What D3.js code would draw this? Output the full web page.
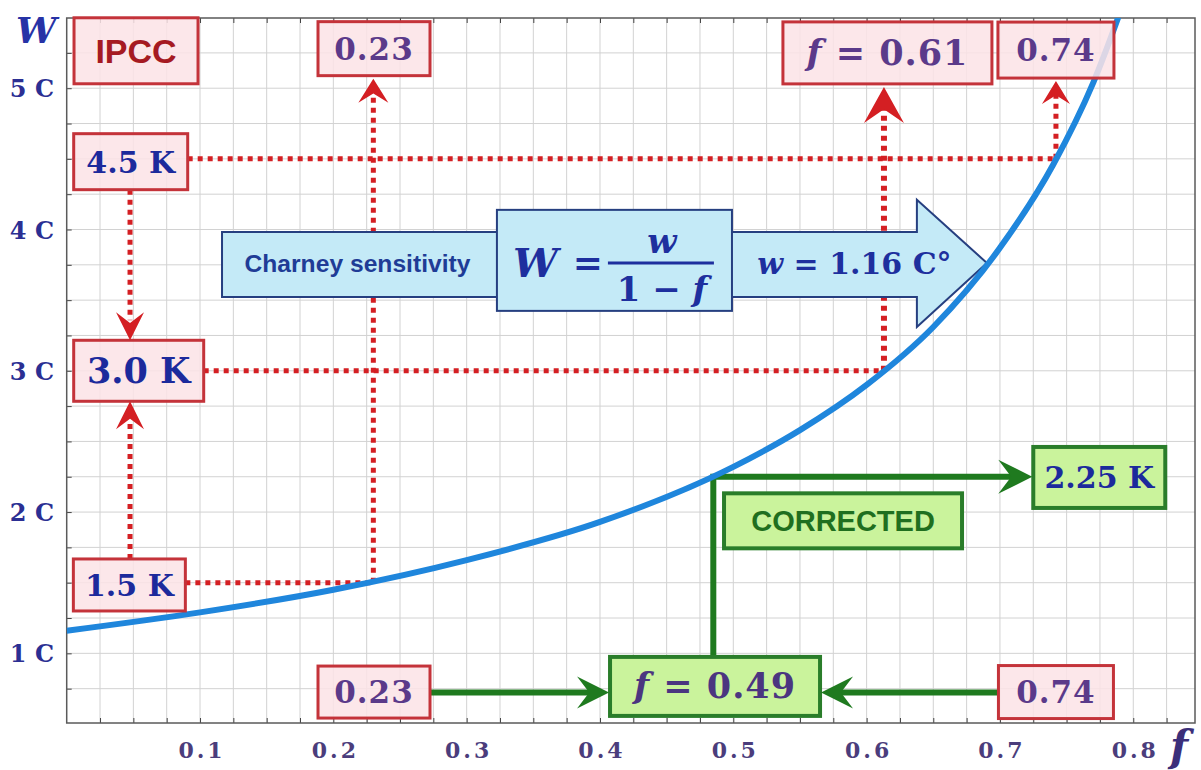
<!DOCTYPE html>
<html>
<head>
<meta charset="utf-8">
<script src="https://cdn.jsdelivr.net/npm/d3@7"></script>
<style>
  body { margin: 0; background: #fff; }
  svg { display: block; }
</style>
</head>
<body>
<div id="chart"></div>
<script>
// sensitivity curve W = w / (1 - f)
var curveF = [0, 0.1, 0.2, 0.3, 0.4, 0.5, 0.55, 0.6, 0.65, 0.7, 0.74, 0.77, 0.8];
var curveW = [1.16, 1.29, 1.45, 1.66, 1.93, 2.32, 2.58, 2.90, 3.31, 3.87, 4.46, 5.04, 5.80];

var xTicks = [0.1, 0.2, 0.3, 0.4, 0.5, 0.6, 0.7, 0.8];
var xTickLabels = ["0.1", "0.2", "0.3", "0.4", "0.5", "0.6", "0.7", "0.8"];
var yTicks = [1, 2, 3, 4, 5];
var yTickLabels = ["1 C", "2 C", "3 C", "4 C", "5 C"];

// IPCC range: warming levels and the feedback where each meets the curve
var ipccW = [1.5, 3.0, 4.5];
var ipccF = [0.23, 0.613, 0.742];
var ipccWLabels = ["1.5 K", "3.0 K", "4.5 K"];
var ipccFLabels = ["0.23", "0.61", "0.74"];

// corrected value
var correctedF = 0.485;
var correctedW = 2.25;
var correctedLabels = ["0.49", "2.25 K"];

var width = 1201;
var height = 770;

var x = d3.scaleLinear().domain([0, 0.8463]).range([66.7, 1195]);
var y = d3.scaleLinear().domain([0.507, 5.497]).range([723, 18]);

var svg = d3.select('#chart')
            .append('svg')
            .attr('width', width)
            .attr('height', height);

svg.append('rect').attr('width', width).attr('height', height).attr('fill', '#fff');

var plotL = x.range()[0], plotR = x.range()[1];
var plotT = y.range()[1], plotB = y.range()[0];

svg.append('clipPath').attr('id', 'plotclip')
   .append('rect')
   .attr('x', plotL).attr('y', plotT)
   .attr('width', plotR - plotL).attr('height', plotB - plotT);

// grid
var gridX = d3.range(1, 34).map(function(i){ return i * 0.025; });
var gridY = d3.range(3, 22).map(function(i){ return i * 0.25; });

svg.append('g').selectAll('line').data(gridX).enter().append('line')
   .attr('x1', function(d){ return x(d); }).attr('x2', function(d){ return x(d); })
   .attr('y1', plotT).attr('y2', plotB)
   .attr('stroke', '#d2d2d2').attr('stroke-width', 1);
svg.append('g').selectAll('line').data(gridY).enter().append('line')
   .attr('y1', function(d){ return y(d); }).attr('y2', function(d){ return y(d); })
   .attr('x1', plotL).attr('x2', plotR)
   .attr('stroke', '#d2d2d2').attr('stroke-width', 1);

// inward ticks on three sides
var tickLen = 5;
svg.append('g').call(d3.axisBottom(x).tickValues(gridX).tickSize(-tickLen).tickFormat(''))
   .attr('transform', 'translate(0,' + plotB + ')')
   .call(function(g){ g.select('.domain').remove(); g.selectAll('line').attr('stroke', '#444'); });
svg.append('g').call(d3.axisTop(x).tickValues(gridX).tickSize(-tickLen).tickFormat(''))
   .attr('transform', 'translate(0,' + plotT + ')')
   .call(function(g){ g.select('.domain').remove(); g.selectAll('line').attr('stroke', '#444'); });
svg.append('g').call(d3.axisLeft(y).tickValues(gridY).tickSize(-tickLen).tickFormat(''))
   .attr('transform', 'translate(' + plotL + ',0)')
   .call(function(g){ g.select('.domain').remove(); g.selectAll('line').attr('stroke', '#444'); });

svg.append('rect')
   .attr('x', plotL).attr('y', plotT)
   .attr('width', plotR - plotL).attr('height', plotB - plotT)
   .attr('fill', 'none').attr('stroke', '#5a5a5a').attr('stroke-width', 1.5);

// tick labels
var serif = '"DejaVu Serif", "Liberation Serif", serif';
var sans = '"Liberation Sans", Arial, sans-serif';

svg.append('g').selectAll('text').data(xTicks).enter().append('text')
   .attr('x', function(d){ return x(d) + 2; })
   .attr('y', 758)
   .attr('text-anchor', 'middle')
   .attr('font-family', serif).attr('font-weight', 'bold').attr('font-size', 22)
   .attr('letter-spacing', 3)
   .attr('fill', '#4b3d7c')
   .text(function(d, i){ return xTickLabels[i]; });

svg.append('g').selectAll('text').data(yTicks).enter().append('text')
   .attr('x', 54)
   .attr('y', function(d){ return y(d) + 9; })
   .attr('text-anchor', 'end')
   .attr('font-family', serif).attr('font-weight', 'bold').attr('font-size', 24)
   .attr('fill', '#2b2f93')
   .text(function(d, i){ return yTickLabels[i]; });

svg.append('text').attr('x', 16).attr('y', 43)
   .attr('font-family', serif).attr('font-style', 'italic').attr('font-weight', 'bold')
   .attr('font-size', 36).attr('fill', '#2733a6').text('W');
svg.append('text').attr('x', 1170).attr('y', 761)
   .attr('font-family', serif).attr('font-style', 'italic').attr('font-weight', 'bold')
   .attr('font-size', 42).attr('fill', '#3b2f7a').text('f');

// annotation boxes, centres given in data units, sizes in px
var pinkFill = '#fbe3e6', pinkLine = '#c4333a';
var greenFill = '#caf39c', greenLine = '#2a7d2a';
var boxes = {
  ipcc:   { f: 0.052,  w: 5.265, bw: 124, bh: 66, kind: 'pink' },
  top023: { f: 0.2305, w: 5.28,  bw: 112, bh: 54, kind: 'pink' },
  top061: { f: 0.6156, w: 5.25,  bw: 209, bh: 62, kind: 'pink' },
  top074: { f: 0.742,  w: 5.27,  bw: 116, bh: 56, kind: 'pink' },
  k45:    { f: 0.048,  w: 4.48,  bw: 114, bh: 56, kind: 'pink' },
  k30:    { f: 0.054,  w: 3.0,   bw: 130, bh: 61, kind: 'pink' },
  k15:    { f: 0.047,  w: 1.484, bw: 112, bh: 52, kind: 'pink' },
  bot023: { f: 0.2305, w: 0.726, bw: 112, bh: 52, kind: 'pink' },
  bot074: { f: 0.742,  w: 0.726, bw: 115, bh: 53, kind: 'pink' },
  f049:   { f: 0.4863, w: 0.766, bw: 210, bh: 59, kind: 'green' },
  k225:   { f: 0.7745, w: 2.245, bw: 132, bh: 61, kind: 'green' },
  corr:   { f: 0.5823, w: 1.938, bw: 238, bh: 55, kind: 'green' }
};
Object.keys(boxes).forEach(function(k){
  var b = boxes[k];
  b.cx = x(b.f); b.cy = y(b.w);
  b.l = b.cx - b.bw / 2; b.r = b.cx + b.bw / 2;
  b.t = b.cy - b.bh / 2; b.b = b.cy + b.bh / 2;
});

var red = '#d41f23';
var green = '#1f7a1f';

function chevron(tx, ty, dir, hw, len) {
  // arrow head with a notch, pointing in dir
  var pts;
  if (dir === 'up')    pts = [[tx, ty], [tx + hw, ty + len], [tx, ty + len * 0.62], [tx - hw, ty + len]];
  if (dir === 'down')  pts = [[tx, ty], [tx + hw, ty - len], [tx, ty - len * 0.62], [tx - hw, ty - len]];
  if (dir === 'right') pts = [[tx, ty], [tx - len, ty - hw], [tx - len * 0.62, ty], [tx - len, ty + hw]];
  if (dir === 'left')  pts = [[tx, ty], [tx + len, ty - hw], [tx + len * 0.62, ty], [tx + len, ty + hw]];
  return 'M' + pts.map(function(p){ return p.join(','); }).join('L') + 'Z';
}

var lines = svg.append('g');
var heads = [];

function dotted(x1, y1, x2, y2, sw) {
  lines.append('line')
       .attr('x1', x1).attr('y1', y1).attr('x2', x2).attr('y2', y2)
       .attr('stroke', red).attr('stroke-width', sw || 5)
       .attr('stroke-dasharray', '5,5');
}

// IPCC guide lines: horizontal from the K boxes to the curve, vertical up to the f boxes
var kBoxes = [boxes.k15, boxes.k30, boxes.k45];
var fBoxes = [boxes.top023, boxes.top061, boxes.top074];
var headSize = [[15, 24], [20, 36], [14, 23]];
ipccW.forEach(function(wv, i){
  var px = x(ipccF[i]), py = y(wv);
  dotted(kBoxes[i].r, py, px, py, 5);
  var tip = fBoxes[i].b + 3;
  dotted(px, py, px, tip + headSize[i][1] * 0.5, i === 1 ? 6 : 5);
  heads.push({ d: chevron(px, tip, 'up', headSize[i][0], headSize[i][1]), c: red });
});

// range arrows between the K boxes
var colX = x(0.0475);
dotted(colX, boxes.k45.b, colX, boxes.k30.t - 20, 5);
heads.push({ d: chevron(colX, boxes.k30.t, 'down', 14, 28), c: red });
dotted(colX, boxes.k15.t, colX, boxes.k30.b + 20, 5);
heads.push({ d: chevron(colX, boxes.k30.b, 'up', 14, 28), c: red });

// corrected path in green
var gx = x(correctedF), gy = y(correctedW);
lines.append('path')
     .attr('d', 'M' + gx + ',' + boxes.f049.t + 'L' + gx + ',' + gy + 'L' + (boxes.k225.l - 20) + ',' + gy)
     .attr('fill', 'none').attr('stroke', green).attr('stroke-width', 6)
     .attr('stroke-linejoin', 'miter');
heads.push({ d: chevron(boxes.k225.l - 1, gy, 'right', 17, 34), c: green });

var by = boxes.f049.cy + 6;
lines.append('line').attr('x1', boxes.bot023.r).attr('x2', boxes.f049.l - 20)
     .attr('y1', by).attr('y2', by).attr('stroke', green).attr('stroke-width', 6);
heads.push({ d: chevron(boxes.f049.l - 1, by, 'right', 16, 32), c: green });
lines.append('line').attr('x1', boxes.bot074.l).attr('x2', boxes.f049.r + 20)
     .attr('y1', by).attr('y2', by).attr('stroke', green).attr('stroke-width', 6);
heads.push({ d: chevron(boxes.f049.r + 1, by, 'left', 16, 32), c: green });

// big "Charney sensitivity" arrow
var ar = {
  l: x(0.1165), headL: x(0.6377), tip: x(0.6902),
  bodyT: y(3.983), bodyB: y(3.523), headT: y(4.21), headB: y(3.31), tipY: y(3.763)
};
var arrowPts = [[ar.l, ar.bodyT], [ar.headL, ar.bodyT], [ar.headL, ar.headT], [ar.tip, ar.tipY],
                [ar.headL, ar.headB], [ar.headL, ar.bodyB], [ar.l, ar.bodyB]];
svg.append('path')
   .attr('d', 'M' + arrowPts.map(function(p){ return p.join(','); }).join('L') + 'Z')
   .attr('fill', '#c4eaf7').attr('stroke', '#263f80').attr('stroke-width', 2);

var fb = { l: x(0.3227), r: x(0.499), t: y(4.139), b: y(3.424) };
svg.append('rect')
   .attr('x', fb.l).attr('y', fb.t).attr('width', fb.r - fb.l).attr('height', fb.b - fb.t)
   .attr('fill', '#c4eaf7').attr('stroke', '#263f80').attr('stroke-width', 2);

var navy = '#1e2f9e';
svg.append('text')
   .attr('x', (ar.l + fb.l) / 2 - 2).attr('y', ar.tipY + 9)
   .attr('text-anchor', 'middle')
   .attr('font-family', sans).attr('font-weight', 'bold').attr('font-size', 24)
   .attr('textLength', 226).attr('lengthAdjust', 'spacingAndGlyphs')
   .attr('fill', '#1f3c96').text('Charney sensitivity');

svg.append('text').attr('x', fb.l + 16).attr('y', ar.tipY + 14)
   .attr('font-family', serif).attr('font-style', 'italic').attr('font-weight', 'bold')
   .attr('font-size', 40).attr('fill', navy).text('W');
svg.append('text').attr('x', fb.l + 91).attr('y', ar.tipY + 12)
   .attr('text-anchor', 'middle')
   .attr('font-family', serif).attr('font-weight', 'bold')
   .attr('font-size', 36).attr('fill', navy).text('=');
var fracX = fb.l + 165;
svg.append('line').attr('x1', fracX - 54).attr('x2', fracX + 52)
   .attr('y1', ar.tipY).attr('y2', ar.tipY)
   .attr('stroke', navy).attr('stroke-width', 3);
svg.append('text').attr('x', fracX).attr('y', ar.tipY - 10)
   .attr('text-anchor', 'middle')
   .attr('font-family', serif).attr('font-style', 'italic').attr('font-weight', 'bold')
   .attr('font-size', 34).attr('fill', navy).text('w');
var den = svg.append('text').attr('x', fracX).attr('y', ar.tipY + 38)
   .attr('text-anchor', 'middle')
   .attr('font-family', serif).attr('font-weight', 'bold')
   .attr('font-size', 34).attr('fill', navy);
den.append('tspan').text('1 \u2212 ');
den.append('tspan').attr('font-style', 'italic').text('f');

var wt = svg.append('text')
   .attr('x', (fb.r + ar.headL) / 2 + 30).attr('y', ar.tipY + 11)
   .attr('text-anchor', 'middle')
   .attr('font-family', serif).attr('font-weight', 'bold')
   .attr('font-size', 30).attr('fill', navy);
wt.append('tspan').attr('font-style', 'italic').text('w');
wt.append('tspan').text(' = ' + curveW[0].toFixed(2) + ' C\u00b0');

// the curve
var line = d3.line()
             .x(function(d){ return x(d[0]); })
             .y(function(d){ return y(d[1]); })
             .curve(d3.curveMonotoneX);
svg.append('path')
   .datum(curveF.map(function(f, i){ return [f, curveW[i]]; }))
   .attr('clip-path', 'url(#plotclip)')
   .attr('d', line)
   .attr('fill', 'none')
   .attr('stroke', '#1f86dc')
   .attr('stroke-width', 6);

// boxes on top
var boxG = svg.append('g');
Object.keys(boxes).forEach(function(k){
  var b = boxes[k];
  boxG.append('rect')
      .attr('x', b.l).attr('y', b.t).attr('width', b.bw).attr('height', b.bh)
      .attr('fill', b.kind === 'pink' ? pinkFill : greenFill)
      .attr('fill-opacity', b.kind === 'pink' ? 0.86 : 1)
      .attr('stroke', b.kind === 'pink' ? pinkLine : greenLine)
      .attr('stroke-width', b.kind === 'pink' ? 3 : 4);
});

svg.append('g').selectAll('path').data(heads).enter().append('path')
   .attr('d', function(d){ return d.d; })
   .attr('fill', function(d){ return d.c; });

function label(b, txt, opt) {
  var t = svg.append('text')
     .attr('x', b.cx + (opt.dx || 0)).attr('y', b.cy + (opt.dy || 0))
     .attr('text-anchor', 'middle')
     .attr('font-family', opt.font || serif).attr('font-weight', 'bold')
     .attr('font-size', opt.size).attr('letter-spacing', opt.ls || 0)
     .attr('fill', opt.color);
  if (opt.italicF) {
    t.append('tspan').attr('font-style', 'italic').text('f');
    t.append('tspan').text(' = ' + txt);
  } else {
    t.text(txt);
  }
  return t;
}

var purple = '#5b3a8a';
var blueK = '#1c2a9c';
label(boxes.ipcc, 'IPCC', { font: sans, size: 34, color: '#a51a22', dy: 12 });
label(boxes.top023, ipccFLabels[0], { size: 31, color: purple, dy: 11, ls: 1 });
label(boxes.top061, ipccFLabels[1], { size: 35, color: purple, dy: 12, ls: 1, italicF: true });
label(boxes.top074, ipccFLabels[2], { size: 31, color: purple, dy: 11, ls: 1 });
label(boxes.k45, ipccWLabels[2], { size: 30, color: blueK, dy: 11 });
label(boxes.k30, ipccWLabels[1], { size: 35, color: blueK, dy: 12 });
label(boxes.k15, ipccWLabels[0], { size: 30, color: blueK, dy: 11 });
label(boxes.bot023, ipccFLabels[0], { size: 31, color: purple, dy: 11, ls: 1 });
label(boxes.bot074, ipccFLabels[2], { size: 31, color: purple, dy: 11, ls: 1 });
label(boxes.f049, correctedLabels[0], { size: 35, color: '#4b3580', dy: 12, ls: 1, italicF: true });
label(boxes.k225, correctedLabels[1], { size: 30, color: blueK, dy: 11 });
label(boxes.corr, 'CORRECTED', { font: sans, size: 29, color: '#1f6f1f', dy: 10 });
</script>
</body>
</html>
